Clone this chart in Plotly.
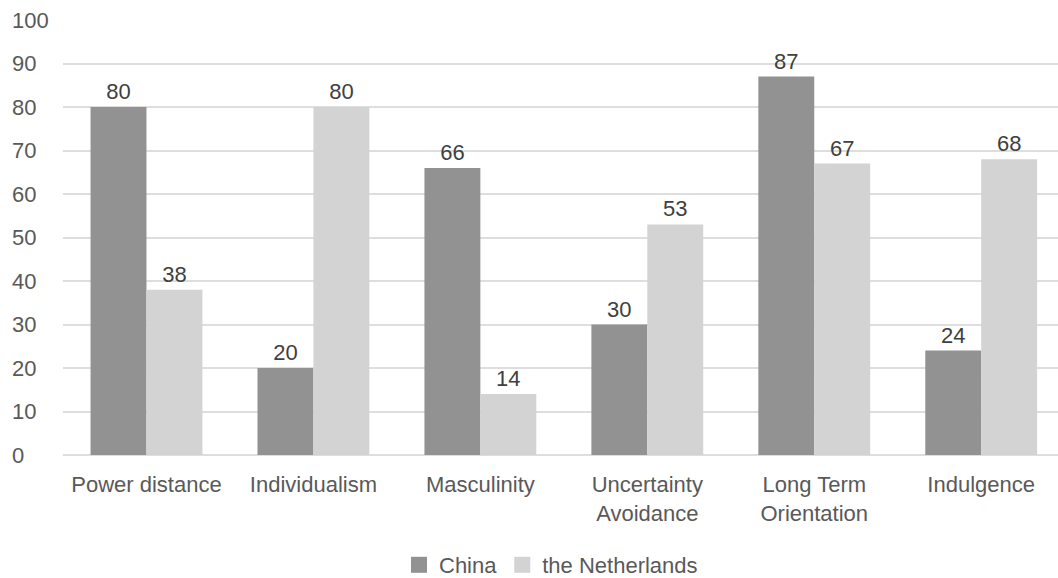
import plotly.graph_objects as go

categories = ["Power distance", "Individualism", "Masculinity",
              "Uncertainty<br>Avoidance", "Long Term<br>Orientation", "Indulgence"]
china = [80, 20, 66, 30, 87, 24]
netherlands = [38, 80, 14, 53, 67, 68]
series_names = ["China", "the Netherlands"]
series_colors = ["#929292", "#d3d3d3"]
y_ticks = list(range(0, 101, 10))

FONT = "Liberation Sans, Arial, sans-serif"
TEXT_GREY = "#595959"
LABEL_GREY = "#404040"
SIZE = 22

W, H = 1058, 578
M_L, M_R, M_T, M_B = 63, 0, 20, 123

fig = go.Figure()
for name, values, color in zip(series_names, [china, netherlands], series_colors):
    fig.add_trace(go.Bar(
        name=name, x=categories, y=values, showlegend=False,
        marker=dict(color=color, line=dict(width=0)),
        text=values, textposition="outside", cliponaxis=False,
        textfont=dict(size=SIZE, color=LABEL_GREY, family=FONT),
    ))

# legend entries with larger square swatches
for name, color in zip(series_names, series_colors):
    fig.add_trace(go.Scatter(
        name=name, x=[None], y=[None], mode="markers",
        marker=dict(symbol="square", size=18, color=color, line=dict(width=0)),
        showlegend=True, hoverinfo="skip",
    ))

# left-aligned value-axis labels
plot_w = W - M_L - M_R
for v in y_ticks:
    fig.add_annotation(
        x=(10 - M_L) / plot_w, xref="paper", xanchor="left",
        y=v, yref="y", yanchor="middle",
        text=str(v), showarrow=False,
        font=dict(size=SIZE, color=TEXT_GREY, family=FONT),
    )

fig.update_layout(
    width=W, height=H,
    margin=dict(l=M_L, r=M_R, t=M_T, b=M_B, autoexpand=False),
    paper_bgcolor="white", plot_bgcolor="white",
    barmode="group", bargap=0.33, bargroupgap=0,
    font=dict(family=FONT, size=SIZE, color=TEXT_GREY),
    showlegend=True,
    legend=dict(orientation="h", x=(551 - M_L) / plot_w, xanchor="center",
                y=1 - 565 / H, yref="container", yanchor="middle",
                font=dict(size=SIZE, color=TEXT_GREY), itemwidth=30,
                tracegroupgap=0, traceorder="normal"),
    xaxis=dict(range=[-0.5, 5.46], showgrid=False, zeroline=False,
               showline=False, ticks="", ticklabelstandoff=14,
               tickfont=dict(size=SIZE, color=TEXT_GREY),
               fixedrange=True),
    yaxis=dict(range=[0, 100], tickvals=y_ticks, showgrid=True,
               gridcolor="#dedede", gridwidth=1.5, zeroline=True,
               zerolinecolor="#dedede", zerolinewidth=1.5, showline=False,
               ticks="", showticklabels=False, fixedrange=True),
)

fig.write_html("out.html")
